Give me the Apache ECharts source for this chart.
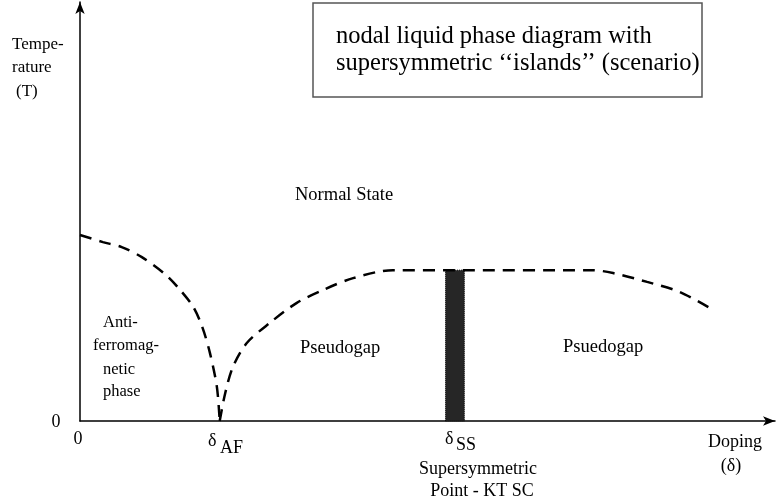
<!DOCTYPE html>
<html>
<head>
<meta charset="utf-8">
<script src="https://cdn.jsdelivr.net/npm/echarts@6/dist/echarts.min.js"></script>
<style>
html,body{margin:0;padding:0;background:#fff;}
#main{width:776px;height:502px;}
</style>
</head>
<body>
<div id="main"></div>
<script>
// doping (x) / temperature (y), arbitrary units 0..100
var afDoping = [0, 3.3, 6.0, 8.9, 12.4, 14.4, 16.3, 17.6, 18.7, 19.7, 20.1];
var afTemp   = [44.4, 42.7, 41.5, 39.1, 34.8, 31.3, 27.2, 22.4, 16.2, 8.1, 0];

var pgDoping = [20.1, 20.9, 22.0, 24.0, 27.3, 31.2, 35.0, 39.3, 45.0, 54.0, 73.8, 76.7, 81.6, 86.3, 91.1];
var pgTemp   = [0, 6.7, 12.9, 18.6, 23.4, 28.2, 31.3, 34.1, 36.0, 36.0, 36.0, 35.3, 33.2, 30.8, 26.5];

// supersymmetric strip: doping from..to, height
var ssStrip = [52.6, 55.3, 36.0];

function pairs(xs, ys){
	var out = [];
	for (var i = 0; i < xs.length; i++) out.push([xs[i], ys[i]]);
	return out;
}

var FONT = '"Liberation Serif", "DejaVu Serif", serif';
function txt(x, y, s, size, align){
	return {
		type: 'text', x: x, y: y,
		style: {
			text: s, fill: '#000', font: size + 'px ' + FONT,
			align: align || 'left', verticalAlign: 'middle'
		}
	};
}

var chart = echarts.init(document.getElementById('main'));
var dash = {color: '#000', width: 2.5, type: [12, 8]};
var axisCommon = {
	type: 'value', min: 0, max: 100,
	axisLine: {show: true, symbol: ['none', 'arrow'], symbolSize: [7, 12], lineStyle: {color: '#000', width: 1.5}},
	axisTick: {show: false}, axisLabel: {show: false}, splitLine: {show: false}
};

var option = {
	animation: false,
	backgroundColor: '#fff',
	grid: {left: 80, right: 1, top: 2, bottom: 81},
	xAxis: axisCommon,
	yAxis: axisCommon,
	series: [{
		type: 'line', name: 'AF',
		data: pairs(afDoping, afTemp),
		smooth: 0.3, symbol: 'none',
		lineStyle: dash
	}, {
		type: 'line', name: 'pseudogap',
		data: pairs(pgDoping, pgTemp),
		smooth: 0.3, symbol: 'none',
		lineStyle: dash,
		markArea: {
			silent: true,
			itemStyle: {color: '#262626', borderColor: '#000', borderWidth: 1, borderType: 'dotted'},
			data: [[{coord: [ssStrip[0], 0]}, {coord: [ssStrip[1], ssStrip[2]]}]]
		}
	}],
	graphic: [
		{type: 'rect', shape: {x: 313, y: 3, width: 389, height: 94},
			style: {fill: 'none', stroke: '#555', lineWidth: 1.5}},
		txt(336, 37, 'nodal liquid phase diagram with', 24.5),
		txt(336, 64, 'supersymmetric \u2018\u2018islands\u2019\u2019 (scenario)', 24.5),
		txt(12, 45, 'Tempe-', 17),
		txt(12, 68, 'rature', 17),
		txt(16, 92, '(T)', 17),
		txt(295, 195, 'Normal State', 18.5),
		txt(103, 323, 'Anti-', 16.5),
		txt(93, 346, 'ferromag-', 16.5),
		txt(103, 370, 'netic', 16.5),
		txt(103, 392, 'phase', 16.5),
		txt(300, 348, 'Pseudogap', 18.5),
		txt(563, 347, 'Psuedogap', 18.5),
		txt(56, 422, '0', 18, 'center'),
		txt(78, 439, '0', 18, 'center'),
		txt(208, 441, '\u03b4', 18),
		txt(220, 448, 'AF', 18),
		txt(445, 439, '\u03b4', 18),
		txt(456, 445, 'SS', 18),
		txt(478, 469, 'Supersymmetric', 18, 'center'),
		txt(482, 491, 'Point - KT SC', 18, 'center'),
		txt(735, 442, 'Doping', 18, 'center'),
		txt(731, 466, '(\u03b4)', 18, 'center')
	]
};
chart.setOption(option);
window.addEventListener('resize', function(){
	chart.resize();
});
</script>
</body>
</html>
